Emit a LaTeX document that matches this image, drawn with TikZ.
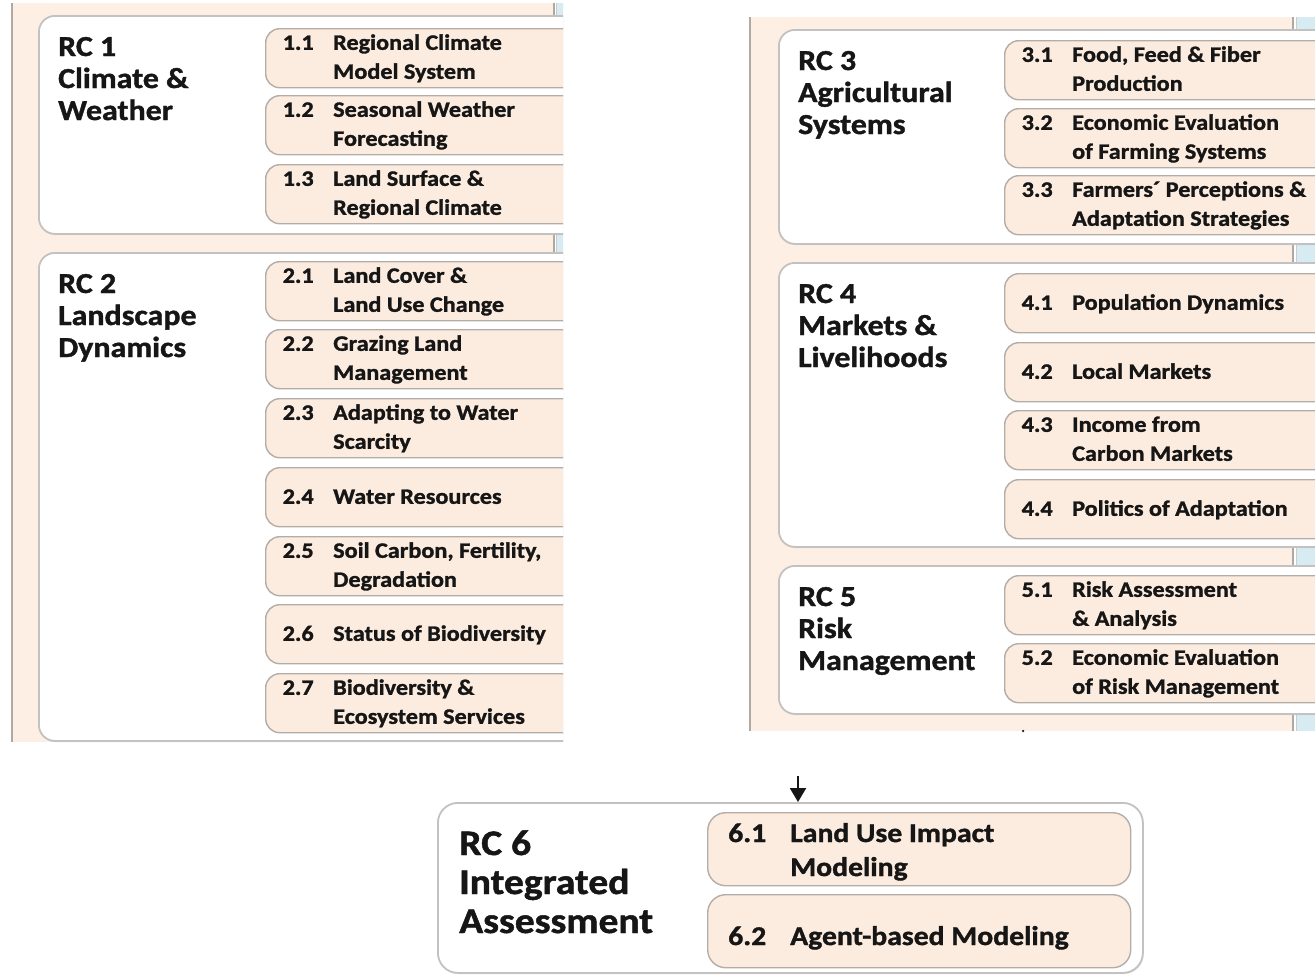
\documentclass[tikz,border=0pt]{standalone}
\usepackage{fontspec}
\setmainfont{Carlito}[FakeStretch=1.1,BoldFeatures={FakeBold=1.3}]
\usetikzlibrary{arrows.meta,shadows}
\definecolor{peach}{RGB}{253,239,228}
\definecolor{subfill}{RGB}{252,236,223}
\definecolor{subline}{RGB}{180,173,167}
\definecolor{boxline}{RGB}{196,194,192}
\definecolor{panelline}{RGB}{176,169,163}
\definecolor{stripblue}{RGB}{214,236,242}
\definecolor{txt}{RGB}{22,22,22}
\tikzset{
 panel/.style={fill=peach,draw=none,inner sep=0,outer sep=0,anchor=north west},
 stripbox/.style={fill=stripblue,draw=none,inner sep=0,outer sep=0,anchor=north west},
 rcbox/.style={fill=white,draw=boxline,line width=1.8pt,rounded corners=16pt,inner sep=0,anchor=north west,
   drop shadow={opacity=0.18,shadow xshift=0.8pt,shadow yshift=-1.3pt}},
 subbox/.style={fill=subfill,draw=subline,line width=1.4pt,rounded corners=14pt,inner sep=0,anchor=north west,
   minimum width=440pt,minimum height=59pt},
 bigsub/.style={subbox,rounded corners=18pt,minimum width=423pt,minimum height=73pt},
 ttl/.style={anchor=base west,inner sep=0,text=txt,font=\fontsize{29}{32}\selectfont\bfseries},
 stxt/.style={anchor=base west,inner sep=0,text=txt,font=\fontsize{22}{29}\selectfont\bfseries},
 bigttl/.style={ttl,font=\fontsize{36}{39}\selectfont\bfseries},
 bigtxt/.style={stxt,font=\fontsize{27}{34}\selectfont\bfseries},
}
\newcommand\RCTitle[6]{%
  \node[ttl] (#1a) at ({#2+20},{#3+41}) {#4};
  \node[ttl] (#1b) at ({#2+20},{#3+73}) {#5};
  \node[ttl] (#1c) at ({#2+20},{#3+105}) {#6};
}
\newcommand\SubTwo[6]{%
  \node[subbox] (#1) at (#2,#3) {};
  \node[stxt] (#1n) at ({#2+17.5},{#3+21.8}) {#4};
  \node[stxt] (#1a) at ({#2+68},{#3+21.8}) {#5};
  \node[stxt] (#1b) at ({#2+68},{#3+50.8}) {#6};
}
\newcommand\SubOne[5]{%
  \node[subbox] (#1) at (#2,#3) {};
  \node[stxt] (#1n) at ({#2+17.5},{#3+36.8}) {#4};
  \node[stxt] (#1a) at ({#2+68},{#3+36.8}) {#5};
}
\begin{document}
\begin{tikzpicture}[x=1pt,y=-1pt]
\useasboundingbox (0,0) rectangle (1315,975);
\fill[white] (0,0) rectangle (1315,975);
% ---------- left panel ----------
\begin{scope}
\clip (0,0) rectangle (563,975);
\node[panel,minimum width=542pt,minimum height=739pt] (lpanel) at (12,3) {};
\node[stripbox,minimum width=20pt,minimum height=739pt] (lstrip) at (556.5,3) {};
\draw[panelline,line width=1.4pt] (lpanel.north east) -- (lpanel.south east);
\draw[panelline!60,line width=0.8pt] (lstrip.north west) -- (lstrip.south west);
\draw[panelline,line width=2pt] (lpanel.north west) -- (lpanel.south west);
\node[rcbox,minimum width=580pt,minimum height=218pt] (rc1) at (38,15) {};
\RCTitle{t1}{38}{15}{RC 1}{Climate \&}{Weather}
\SubTwo{s11}{265}{28}{1.1}{Regional Climate}{Model System}
\SubTwo{s12}{265}{95}{1.2}{Seasonal Weather}{Forecasting}
\SubTwo{s13}{265}{164}{1.3}{Land Surface \&}{Regional Climate}
\node[rcbox,minimum width=580pt,minimum height=488pt] (rc2) at (38,252) {};
\RCTitle{t2}{38}{252}{RC 2}{Landscape}{Dynamics}
\SubTwo{s21}{265}{261}{2.1}{Land Cover \&}{Land Use Change}
\SubTwo{s22}{265}{329}{2.2}{Grazing Land}{Management}
\SubTwo{s23}{265}{398}{2.3}{Adapting to Water}{Scarcity}
\SubOne{s24}{265}{467}{2.4}{Water Resources}
\SubTwo{s25}{265}{536}{2.5}{Soil Carbon, Fertility,}{Degradation}
\SubOne{s26}{265}{604}{2.6}{Status of Biodiversity}
\SubTwo{s27}{265}{673}{2.7}{Biodiversity \&}{Ecosystem Services}
\end{scope}
% ---------- right panel ----------
\node[panel,minimum width=543pt,minimum height=714pt] (rpanel) at (750,17) {};
\node[stripbox,minimum width=20pt,minimum height=714pt] (rstrip) at (1296.5,17) {};
\draw[panelline,line width=1.4pt] (rpanel.north east) -- (rpanel.south east);
\draw[panelline!60,line width=0.8pt] (rstrip.north west) -- (rstrip.south west);
\draw[panelline,line width=2pt] (rpanel.north west) -- (rpanel.south west);
\node[rcbox,minimum width=580pt,minimum height=214pt] (rc3) at (778,29) {};
\RCTitle{t3}{778}{29}{RC 3}{Agricultural}{Systems}
\SubTwo{s31}{1004}{40}{3.1}{Food, Feed \& Fiber}{Production}
\SubTwo{s32}{1004}{108}{3.2}{Economic Evaluation}{of Farming Systems}
\SubTwo{s33}{1004}{175}{3.3}{Farmers´ Perceptions \&}{Adaptation Strategies}
\node[rcbox,minimum width=580pt,minimum height=284pt] (rc4) at (778,262) {};
\RCTitle{t4}{778}{262}{RC 4}{Markets \&}{Livelihoods}
\SubOne{s41}{1004}{273}{4.1}{Population Dynamics}
\SubOne{s42}{1004}{342}{4.2}{Local Markets}
\SubTwo{s43}{1004}{410}{4.3}{Income from}{Carbon Markets}
\SubOne{s44}{1004}{479}{4.4}{Politics of Adaptation}
\node[rcbox,minimum width=580pt,minimum height=148pt] (rc5) at (778,565) {};
\RCTitle{t5}{778}{565}{RC 5}{Risk}{Management}
\SubTwo{s51}{1004}{575}{5.1}{Risk Assessment}{\& Analysis}
\SubTwo{s52}{1004}{643}{5.2}{Economic Evaluation}{of Risk Management}
\node[fill=txt,circle,inner sep=0,minimum size=2.5pt] (dot) at (1023,731) {};
% ---------- RC 6 ----------
\node[rcbox,minimum width=705pt,minimum height=170pt,rounded corners=20pt] (rc6) at (437,802) {};
\node[bigttl] (t6a) at (459,855) {RC 6};
\node[bigttl] (t6b) at (459,894) {Integrated};
\node[bigttl] (t6c) at (459,933) {Assessment};
\node[bigsub] (s61) at (707,812) {};
\node[bigtxt] (s61n) at (728,842) {6.1};
\node[bigtxt] (s61a) at (790,842) {Land Use Impact};
\node[bigtxt] (s61b) at (790,876) {Modeling};
\node[bigsub] (s62) at (707,894) {};
\node[bigtxt] (s62n) at (728,945) {6.2};
\node[bigtxt] (s62a) at (790,945) {Agent-based Modeling};
\coordinate (a0) at (798,776);
\draw[txt,line width=2.2pt,-{Triangle[width=16pt,length=14pt]}] (a0) -- (a0 |- rc6.north);
\end{tikzpicture}
\end{document}
